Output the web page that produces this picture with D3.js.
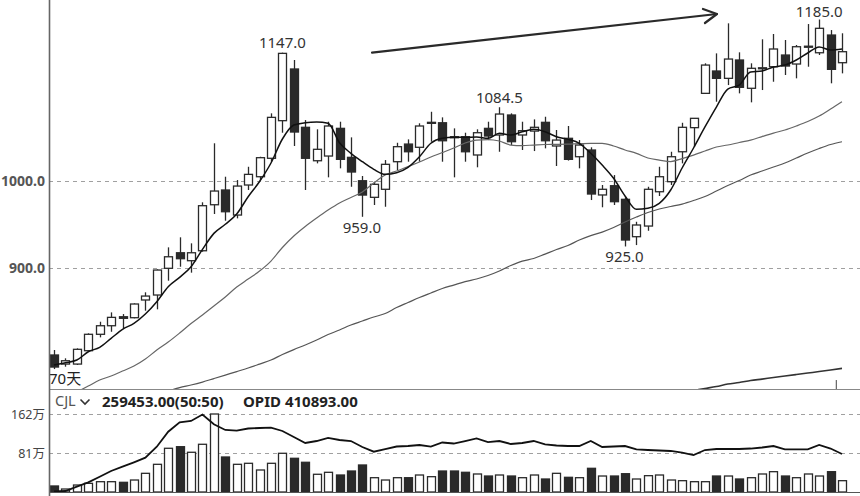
<!DOCTYPE html>
<html><head><meta charset="utf-8">
<script src="https://cdn.jsdelivr.net/npm/d3@7"></script>
<style>body{margin:0;background:#fff}svg{display:block}</style>
</head><body><svg id="c" width="860" height="496"></svg>
<script>
// ---- data ----
const open=[800.7,790.3,790.3,805.6,824.4,834.2,844.5,843.4,863.7,869.4,
900.0,917.8,908.7,920.1,972.8,989.7,961.0,995.4,1004.9,1026.0,
1069.1,1128.3,1061.5,1023.2,1028.6,1060.3,1027.1,1000.3,981.3,990.5,
1022.1,1042.3,1038.6,1066.4,1066.7,1050.7,1050.7,1029.8,1060.3,1052.7,
1075.6,1052.7,1057.2,1067.2,1040.1,1048.9,1027.8,1035.5,984.0,994.6,
979.0,936.2,948.4,987.7,999.2,1033.5,1061.1,1100.4,1126.0,1117.6,
1138.6,1106.2,1128.6,1130.9,1144.3,1134.0,1153.2,1146.9,1167.2,1135.5];
const high=[806.4,796.9,808.3,825.5,838.8,849.5,847.6,859.9,872.5,898.8,
924.0,935.5,928.6,975.6,1043.2,1004.9,1001.1,1016.3,1027.8,1077.5,
1147.0,1138.6,1069.8,1059.2,1067.9,1067.9,1050.0,1005.7,999.2,1024.0,
1043.8,1047.7,1066.1,1079.3,1072.9,1060.3,1055.3,1059.2,1067.9,1084.5,
1077.5,1067.9,1070.6,1073.6,1058.4,1063.0,1046.9,1038.6,995.4,1006.8,
981.3,953.3,993.4,1016.3,1033.5,1066.7,1072.1,1134.8,1146.2,1180.6,
1147.4,1134.8,1162.3,1168.4,1161.5,1155.8,1179.8,1185.0,1172.9,1169.2];
const low=[784.6,787.3,789.2,805.2,820.9,827.3,831.2,842.7,851.4,853.0,
885.8,901.8,895.0,919.0,962.2,954.5,957.2,989.7,1001.1,1022.1,
1055.3,1040.1,989.7,1020.2,1004.2,1014.5,993.4,959.0,972.5,970.5,
1012.6,1022.1,1022.1,1045.0,1022.1,1004.2,1022.1,1015.7,1046.9,1033.5,
1041.2,1035.5,1034.3,1037.4,1017.2,1023.4,1014.5,978.2,969.9,972.5,
925.0,926.6,943.0,982.8,995.4,1020.2,1039.3,1100.2,1090.8,1109.9,
1100.4,1090.1,1104.2,1113.7,1121.4,1117.6,1130.9,1144.3,1111.9,1123.3];
const close=[786.9,794.1,807.2,824.4,834.2,843.8,842.7,859.1,868.2,898.0,
913.2,911.0,917.8,971.7,988.5,964.8,994.2,1007.6,1026.7,1072.9,
1146.2,1056.1,1026.0,1036.3,1063.0,1024.8,1010.3,983.9,996.2,1019.1,
1039.3,1033.5,1063.0,1067.2,1046.1,1049.6,1033.5,1055.3,1051.5,1076.7,
1045.0,1057.6,1061.5,1046.1,1046.9,1024.8,1041.2,985.1,990.5,976.3,
932.4,949.6,990.5,1004.9,1027.8,1061.5,1071.8,1132.8,1117.6,1139.7,
1107.3,1129.1,1129.7,1151.2,1131.7,1153.8,1154.4,1174.9,1127.9,1148.1];

const ma5=[789.2,791.8,794.9,804.4,809.5,819.8,830.1,836.9,847.6,861.7,
878.9,889.6,901.8,921.7,940.0,950.4,962.2,982.0,999.4,1020.6,
1048.1,1064.1,1066.7,1067.5,1066.1,1043.8,1031.7,1022.1,1013.4,1007.6,
1009.5,1015.7,1027.8,1043.2,1048.9,1050.0,1050.0,1050.4,1048.9,1054.6,
1052.7,1056.4,1059.2,1056.4,1050.7,1047.7,1043.2,1031.7,1018.3,1003.1,
982.8,967.5,968.7,974.4,989.7,1014.9,1037.8,1061.9,1084.7,1105.3,
1109.9,1124.8,1126.0,1130.6,1132.8,1138.6,1146.6,1153.5,1150.0,1151.2];
const ma20=[null,null,758.3,765.1,772.0,776.6,782.3,788.0,796.1,806.4,
815.5,825.8,836.7,846.5,856.8,867.1,878.5,887.7,896.9,908.3,
923.8,937.0,947.9,957.6,966.7,974.8,981.1,987.4,997.7,1006.8,
1011.4,1016.6,1021.7,1027.5,1032.6,1037.8,1043.5,1046.9,1047.5,1045.8,
1041.2,1040.6,1041.2,1041.8,1042.0,1042.3,1042.9,1043.2,1043.2,1040.1,
1035.5,1031.7,1026.3,1024.0,1022.3,1025.7,1029.7,1034.3,1038.9,1041.2,
1044.1,1046.9,1050.9,1054.9,1058.4,1063.0,1068.1,1074.4,1082.4,1090.8];
const ma60=[null,null,null,null,null,null,null,null,null,null,
759.4,763.4,766.3,769.7,773.7,777.7,781.7,785.8,790.3,794.9,
801.2,806.9,812.1,817.8,824.1,829.3,835.0,839.6,844.2,848.2,
855.1,860.8,866.5,871.7,876.8,880.8,884.8,887.7,891.7,896.9,
903.2,908.3,911.2,916.3,921.5,926.1,932.4,937.5,941.5,946.7,
953.0,958.7,963.9,967.9,970.8,973.6,977.6,982.2,988.5,994.8,
1000.5,1006.8,1011.4,1016.0,1020.6,1026.3,1032.0,1037.2,1041.8,1045.0];
const ma120=[null,null,null,null,null,null,null,null,null,null,
null,null,null,null,null,null,null,null,null,null,
null,null,null,null,null,null,null,null,null,null,
null,null,null,null,null,null,null,null,null,null,
null,null,null,null,null,null,null,null,null,null,
null,null,null,null,null,null,760.0,762.3,764.6,767.4,
769.1,771.4,773.1,774.9,776.6,778.3,780.0,781.7,783.5,785.4];

// volume in 万
const vol=[12.5,6.2,14.5,18.0,21.4,21.4,20.1,24.9,38.8,57.5,
90.8,94.1,82.5,99.1,162.0,72.7,57.5,59.6,45.7,59.6,
80.4,70.0,61.7,36.8,40.9,35.3,43.6,56.1,29.7,24.9,
29.7,29.7,35.3,31.8,43.6,43.6,40.9,37.4,33.2,35.3,
33.2,29.7,35.3,27.0,38.8,30.5,29.7,49.2,33.2,33.2,
38.0,27.0,33.9,35.3,24.9,23.5,21.4,21.4,33.2,33.2,
27.0,29.7,37.4,42.2,33.2,29.7,37.4,33.2,42.2,23.5];
const volMA=[1.0,2.1,11.0,20.1,31.8,43.6,52.6,61.7,71.3,94.0,
125.2,144.8,147.5,161.0,140.6,128.8,127.3,131.9,132.9,133.5,
126.7,114.2,101.8,105.9,112.2,108.0,105.9,93.5,83.7,89.3,
94.5,95.5,97.6,94.1,102.8,100.7,105.9,111.5,103.8,105.9,
99.7,101.8,105.9,98.7,96.6,95.5,95.5,105.9,93.5,94.5,
95.5,88.7,87.2,86.2,85.2,82.0,76.8,87.2,89.3,89.3,
89.3,90.3,92.4,95.5,88.7,88.7,88.7,97.6,90.3,78.9];

const priceTicks=[900,1000];
const priceTickLabels=["900.0","1000.0"];
const volTicks=[81,162];
const volTickLabels=["81万","162万"];
const highMarks=[{i:20,v:1147.0,t:"1147.0"},{i:39,v:1084.5,t:"1084.5"},{i:67,v:1185.0,t:"1185.0"}];
const lowMarks=[{i:27,v:959.0,t:"959.0"},{i:50,v:925.0,t:"925.0"}];
const periodLabel="70天";
const volHeader={name:"CJL",value:"259453.00(50:50)",opid:"OPID 410893.00"};
const arrowPts=[[27.85,1147.0],[58.05,1191.3]];
const markTick={i:68.5,from:772.0,to:760.0};

// ---- layout ----
const W=860,H=496, axisX=49, mainTop=0, mainBot=389, volBot=492;
const svg=d3.select("#c");
const n=open.length;
const x=d3.scaleLinear().domain([0,n-1]).range([54,842]);
const y=d3.scaleLinear().domain([900,1000]).range([268.3,181]);
const yv=d3.scaleLinear().domain([0,162]).range([volBot,414]);
const FONT="'Noto Sans','DejaVu Sans',sans-serif";
const CJK="'Noto Sans','Noto Sans CJK SC',sans-serif";

svg.append("rect").attr("width",W).attr("height",H).attr("fill","#fff");
const defs=svg.append("defs");
defs.append("clipPath").attr("id","mc").append("rect").attr("x",axisX+1).attr("y",mainTop).attr("width",W-axisX).attr("height",mainBot-mainTop);

// grid lines (price)
svg.append("g").selectAll("line").data(priceTicks).join("line")
  .attr("x1",axisX).attr("x2",W).attr("y1",d=>Math.round(y(d))+0.5).attr("y2",d=>Math.round(y(d))+0.5)
  .attr("stroke","#a0a0a0").attr("stroke-width",1).attr("stroke-dasharray","4,4");
svg.append("g").selectAll("text").data(priceTicks).join("text")
  .attr("x",45).attr("y",d=>y(d)+5).attr("text-anchor","end")
  .attr("font-family",FONT).attr("font-size",14).attr("font-weight","bold").attr("fill","#555")
  .text((d,i)=>priceTickLabels[i]);

// grid lines (volume)
svg.append("g").selectAll("line").data(volTicks).join("line")
  .attr("x1",axisX).attr("x2",W).attr("y1",d=>Math.round(yv(d))+0.5).attr("y2",d=>Math.round(yv(d))+0.5)
  .attr("stroke","#a0a0a0").attr("stroke-width",1).attr("stroke-dasharray","4,4");
svg.append("g").selectAll("text").data(volTicks).join("text")
  .attr("x",45).attr("y",d=>yv(d)+4.5).attr("text-anchor","end")
  .attr("font-family",CJK).attr("font-size",12.5).attr("fill","#444")
  .text((d,i)=>volTickLabels[i]);

const main=svg.append("g").attr("clip-path","url(#mc)");
const bw=8;
const idx=d3.range(n);
// candles
const cg=main.append("g");
cg.selectAll("line").data(idx).join("line")
  .attr("x1",i=>Math.round(x(i))+0.5).attr("x2",i=>Math.round(x(i))+0.5)
  .attr("y1",i=>y(high[i])).attr("y2",i=>y(low[i]))
  .attr("stroke","#2a2a2a").attr("stroke-width",1.3);
cg.selectAll("rect").data(idx).join("rect")
  .attr("x",i=>Math.round(x(i))+0.5-bw/2).attr("width",bw)
  .attr("y",i=>y(Math.max(open[i],close[i])))
  .attr("height",i=>Math.max(1,Math.abs(y(open[i])-y(close[i]))))
  .attr("fill",i=>close[i]>=open[i]?"#fff":"#2a2a2a")
  .attr("stroke","#2a2a2a").attr("stroke-width",1.3);

// moving averages
function maLine(arr,color,w){
  const line=d3.line().defined(i=>arr[i]!=null).x(i=>x(i)).y(i=>y(arr[i])).curve(d3.curveMonotoneX);
  main.append("path").attr("d",line(idx)).attr("fill","none").attr("stroke",color).attr("stroke-width",w);
}
maLine(ma120,"#333",1.6);
maLine(ma60,"#555",1.2);
maLine(ma20,"#666",1.2);
maLine(ma5,"#111",1.5);

// extra marker tick near bottom right
main.append("line").attr("x1",x(markTick.i)).attr("x2",x(markTick.i))
  .attr("y1",y(markTick.from)).attr("y2",y(markTick.to)).attr("stroke","#444").attr("stroke-width",1);

// arrow
const a0=[x(arrowPts[0][0]),y(arrowPts[0][1])], a1=[x(arrowPts[1][0]),y(arrowPts[1][1])];
main.append("line").attr("x1",a0[0]).attr("y1",a0[1]).attr("x2",a1[0]).attr("y2",a1[1])
  .attr("stroke","#2a2a2a").attr("stroke-width",2.2).attr("stroke-linecap","round");
main.append("path").attr("d",`M${a1[0]-14},${a1[1]-5}L${a1[0]},${a1[1]}L${a1[0]-12},${a1[1]+9}`)
  .attr("fill","none").attr("stroke","#2a2a2a").attr("stroke-width",2.2).attr("stroke-linecap","round").attr("stroke-linejoin","round");

// annotations
svg.append("g").selectAll("text").data(highMarks).join("text")
  .attr("x",d=>x(d.i)).attr("y",d=>Math.max(y(d.v)-4.5,16.5)).attr("text-anchor","middle")
  .attr("font-family",FONT).attr("font-size",15).attr("fill","#333").text(d=>d.t);
svg.append("g").selectAll("text").data(lowMarks).join("text")
  .attr("x",d=>x(d.i)-0.5).attr("y",d=>y(d.v)+16).attr("text-anchor","middle")
  .attr("font-family",FONT).attr("font-size",15).attr("fill","#333").text(d=>d.t);

svg.append("text").attr("x",49).attr("y",384).attr("font-family",CJK).attr("font-size",15).attr("fill","#222").text(periodLabel);

// volume bars
const vg=svg.append("g");
vg.selectAll("rect").data(idx).join("rect")
  .attr("x",i=>Math.round(x(i))+0.5-bw/2).attr("width",bw)
  .attr("y",i=>yv(vol[i])).attr("height",i=>volBot-yv(vol[i]))
  .attr("fill",i=>close[i]>=open[i]?"#fff":"#2a2a2a")
  .attr("stroke","#2a2a2a").attr("stroke-width",1.3);
svg.append("path").attr("d",d3.line().x(i=>x(i)).y(i=>yv(volMA[i]))(idx))
  .attr("fill","none").attr("stroke","#111").attr("stroke-width",1.8);

// volume header
svg.append("text").attr("x",55).attr("y",406).attr("font-family",FONT).attr("font-size",14.5).attr("fill","#555").text(volHeader.name);
svg.append("path").attr("d","M80.5,399.5L85,404L89.5,399.5").attr("fill","none").attr("stroke","#333").attr("stroke-width",1.6);
svg.append("text").attr("x",102).attr("y",406.5).attr("font-family",FONT).attr("font-size",15).attr("font-weight","bold").attr("fill","#222").text(volHeader.value);
svg.append("text").attr("x",243).attr("y",406.5).attr("font-family",FONT).attr("font-size",15).attr("font-weight","bold").attr("fill","#222").text(volHeader.opid);

// frame lines
svg.append("line").attr("x1",axisX).attr("x2",W).attr("y1",mainBot+0.5).attr("y2",mainBot+0.5).attr("stroke","#888").attr("stroke-width",1.2);
svg.append("line").attr("x1",axisX).attr("x2",W).attr("y1",volBot+0.5).attr("y2",volBot+0.5).attr("stroke","#555").attr("stroke-width",1.2);
svg.append("line").attr("x1",axisX+0.5).attr("x2",axisX+0.5).attr("y1",0).attr("y2",H).attr("stroke","#666").attr("stroke-width",1.6);
</script></body></html>
